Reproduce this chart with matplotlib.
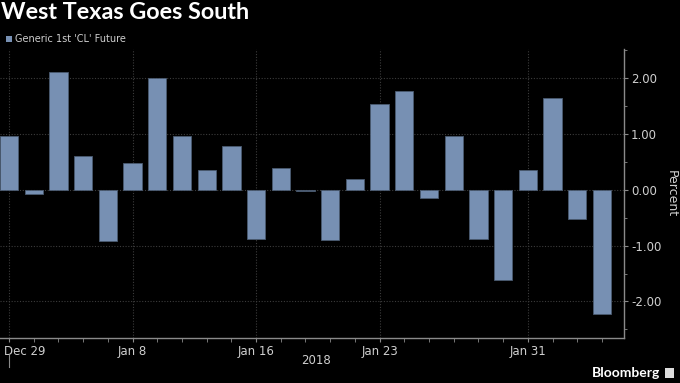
import matplotlib.pyplot as plt
import matplotlib.transforms as mtransforms
from matplotlib.ticker import FixedLocator, MultipleLocator, FormatStrFormatter
from matplotlib.patches import Rectangle

plt.rcParams['axes.unicode_minus'] = False
plt.rcParams['font.family'] = ['DejaVu Sans']

# dzienne zmiany ceny ropy WTI (%)
dates = ["Dec 29", "Jan 2", "Jan 3", "Jan 4", "Jan 5", "Jan 8", "Jan 9", "Jan 10",
         "Jan 11", "Jan 12", "Jan 16", "Jan 17", "Jan 18", "Jan 19", "Jan 22",
         "Jan 23", "Jan 24", "Jan 25", "Jan 26", "Jan 29", "Jan 30", "Jan 31",
         "Feb 1", "Feb 2", "Feb 5"]
change = [0.97, -0.08, 2.10, 0.61, -0.92, 0.48, 2.00, 0.97, 0.36, 0.79, -0.88, 0.39,
          -0.03, -0.90, 0.19, 1.54, 1.77, -0.15, 0.96, -0.88, -1.62, 0.36, 1.65,
          -0.53, -2.22]
major_labels = ["Dec 29", "Jan 8", "Jan 16", "Jan 23", "Jan 31"]
y_ticks = [-2, -1, 0, 1, 2]

bar_color = "#7790b3"
grid_color = "#3c3c3c"
text_color = "#cfcfcf"

fig = plt.figure(figsize=(6.8, 3.83), dpi=100, facecolor="black")
ax = fig.add_axes([0.0, 0.118, 0.9176, 0.754], facecolor="black")

x = list(range(len(dates)))
ax.bar(x, change, width=0.74, color=bar_color, edgecolor="#4a5a70", linewidth=0.6, zorder=3)

ax.set_xlim(-0.365, len(dates) - 1 + 0.89)
ax.set_ylim(-2.65, 2.52)

# osie
for s in ["left", "top"]:
    ax.spines[s].set_visible(False)
for s in ["right", "bottom"]:
    ax.spines[s].set_color("#8a8a8a")
    ax.spines[s].set_linewidth(1.0)

ax.yaxis.tick_right()
ax.yaxis.set_label_position("right")
ax.yaxis.set_major_locator(FixedLocator(y_ticks))
ax.yaxis.set_minor_locator(MultipleLocator(0.5))
ax.yaxis.set_major_formatter(FormatStrFormatter("%.2f"))
ax.tick_params(axis="y", which="major", direction="out", length=3, color="#8a8a8a",
               labelcolor=text_color, labelsize=8.5, pad=2)
ax.tick_params(axis="y", which="minor", direction="out", length=2, color="#8a8a8a")
ax.set_ylabel("Percent", color=text_color, fontsize=9, rotation=270, labelpad=12)

major_pos = [dates.index(d) for d in major_labels]
ax.xaxis.set_major_locator(FixedLocator(major_pos))
ax.xaxis.set_minor_locator(FixedLocator(x))
ax.set_xticklabels(major_labels)
ax.tick_params(axis="x", which="both", direction="out", length=3, color="#8a8a8a",
               labelcolor=text_color, labelsize=8.5, pad=2)
first = ax.get_xticklabels()[0]
first.set_horizontalalignment("left")
first.set_transform(first.get_transform() + mtransforms.ScaledTranslation(-5 / 100, 0, fig.dpi_scale_trans))

# siatka
for yv in y_ticks:
    ax.axhline(yv, color=grid_color, linestyle=(0, (1, 1.5)), linewidth=0.8, zorder=1)
for xv in major_pos:
    ax.axvline(xv, color=grid_color, linestyle=(0, (1, 1.5)), linewidth=0.8, zorder=1)

# znacznik roku
trans = mtransforms.blended_transform_factory(ax.transData, fig.transFigure)
ax.plot([0, 0], [1 - 355 / 383, 1 - 367 / 383], transform=trans, color="#8a8a8a",
        linewidth=0.8, clip_on=False)
fig.text(316 / 680, 1 - 361 / 383, "2018", color=text_color, fontsize=8.5, ha="center", va="center")

# tytuł i legenda
fig.text(0.002, 1 - 2 / 383, "West Texas Goes South", color="white", fontsize=16.8,
         fontweight="bold", family="Lato", ha="left", va="top")
fig.patches.append(Rectangle((6 / 680, 1 - 42 / 383), 6 / 680, 6 / 383, transform=fig.transFigure,
                             facecolor=bar_color, edgecolor="none"))
fig.text(15 / 680, 1 - 39.5 / 383, "Generic 1st 'CL' Future", color=text_color, fontsize=7,
         ha="left", va="center")

fig.text(660 / 680, 1 - 373 / 383, "Bloomberg", color="white", fontsize=10,
         fontweight="bold", family="Lato", ha="right", va="center")
fig.patches.append(Rectangle((665 / 680, 1 - 378 / 383), 9 / 680, 10 / 383, transform=fig.transFigure,
                             facecolor="#dddddd", edgecolor="none"))

fig.savefig("out.png", dpi=100, facecolor="black")
